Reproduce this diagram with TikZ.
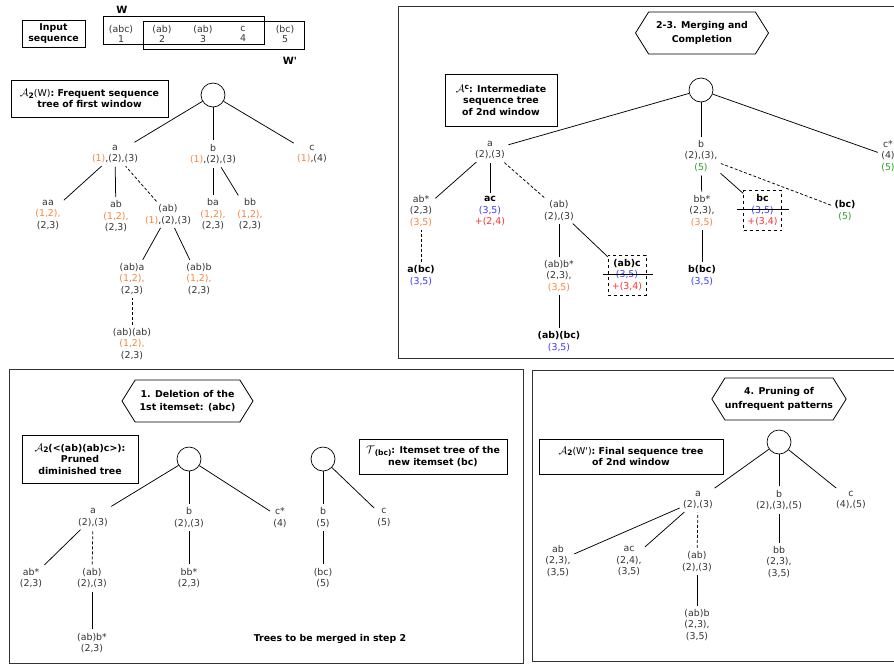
\documentclass[tikz,border=0pt]{standalone}
\usepackage{fontspec}
\setmainfont{DejaVu Sans}
\usetikzlibrary{shapes.symbols,positioning}
\definecolor{txtgrey}{HTML}{333333}
\definecolor{orng}{HTML}{F5873F}
\definecolor{blu}{HTML}{3A3AFF}
\definecolor{redd}{HTML}{FF3030}
\definecolor{gren}{HTML}{2E9E2E}
\newcommand{\ora}[1]{\textcolor{orng}{#1}}
\newcommand{\blu}[1]{\textcolor{blu}{#1}}
\newcommand{\redt}[1]{\textcolor{redd}{#1}}
\newcommand{\gre}[1]{\textcolor{gren}{#1}}
\newcommand{\calA}{{\fontsize{11}{11}\selectfont$\mathcal{A}$}}
\newcommand{\calT}{{\fontsize{11}{11}\selectfont$\mathcal{T}$}}
\newcommand{\low}[1]{\raisebox{-1.5pt}{\fontsize{7.5}{7.5}\selectfont #1}}
\newcommand{\high}[1]{\raisebox{3pt}{\fontsize{7.5}{7.5}\selectfont #1}}
\tikzset{
    tn/.style={align=center,text=txtgrey,font=\fontsize{9.4}{11.5}\selectfont,inner sep=1.5pt},
    bn/.style={tn,text=black},
    root/.style={circle,draw,line width=0.7pt,minimum size=24pt,inner sep=0pt},
    capbox/.style={draw,line width=0.8pt,align=center,inner sep=0pt,
        font=\fontsize{9.4}{11.5}\selectfont\bfseries},
    stepsign/.style={signal,signal to=east and west,signal pointer angle=116,draw,line width=0.8pt,
        align=center,inner sep=0pt,font=\fontsize{9.4}{13.5}\selectfont\bfseries},
    mergebox/.style={tn,draw,dashed,line width=0.7pt,minimum width=38pt,minimum height=40pt},
    tl/.style={-,line width=0.75pt,shorten <=2pt,shorten >=2pt},
    dl/.style={tl,dash pattern=on 3pt off 2pt},
    rl/.style={-,line width=0.75pt,shorten <=2pt},
    bl/.style={-,line width=0.75pt,shorten >=2pt},
    strike/.style={-,line width=1pt},
    panel/.style={draw=black!80,line width=1pt},
    win/.style={draw,line width=0.7pt}
}

\begin{document}
\begin{tikzpicture}[x=1pt,y=-1pt]
    \useasboundingbox (0,0) rectangle (894,665);

    \draw[panel] (398,6) rectangle (900,358);
    \draw[panel] (9,369) rectangle (523,663);
    \draw[panel] (532,370) rectangle (900,661);

    \node[capbox,minimum width=63pt,minimum height=27pt,font=\fontsize{9.4}{11}\selectfont\bfseries]
        (input) at (53.5,33.5) {Input\\sequence};
    \draw[win] (103,16) rectangle (264,44);
    \draw[win] (143,21) rectangle (304,49);
    \node[bn,font=\fontsize{10}{10}\selectfont\bfseries] (lab w)  at (122,10) {W};
    \node[bn,font=\fontsize{10}{10}\selectfont\bfseries] (lab w2) at (290,61) {W\textquotesingle};
    \node[tn,font=\fontsize{9.4}{10.5}\selectfont] (seq 1) at (121,34) {(abc)\\1};
    \node[tn,font=\fontsize{9.4}{10.5}\selectfont] (seq 2) at (162,34) {(ab)\\2};
    \node[tn,font=\fontsize{9.4}{10.5}\selectfont] (seq 3) at (203,34) {(ab)\\3};
    \node[tn,font=\fontsize{9.4}{10.5}\selectfont] (seq 4) at (243,34) {c\\4};
    \node[tn,font=\fontsize{9.4}{10.5}\selectfont] (seq 5) at (285,34) {(bc)\\5};

    \node[capbox,minimum width=157pt,minimum height=37pt,font=\fontsize{9.4}{10.8}\selectfont\bfseries]
        (cap w) at (89.5,98.5) {\calA\low{2}{\mdseries(W)}: Frequent sequence\\tree of first window};
    \node[root] (w root) at (213,95) {};
    \node[tn] (w a) at (115,154) {a\\\ora{(1)},(2),(3)} edge[rl] (w root);
    \node[tn] (w b) at (213,154) {b\\\ora{(1)},(2),(3)} edge[rl] (w root);
    \node[tn] (w c) at (312,154) {c\\\ora{(1)},(4)}     edge[rl] (w root);
    \node[tn] (w aa) at (48,214.5)  {aa\\\ora{(1,2),}\\(2,3)} edge[tl] (w a);
    \node[tn] (w ab) at (116,216.5) {ab\\\ora{(1,2),}\\(2,3)} edge[tl] (w a);
    \node[tn] (w abp) at (168,214.5) {(ab)\\\ora{(1)},(2),(3)} edge[dl] (w a);
    \node[tn] (w ba) at (213,214.5) {ba\\\ora{(1,2),}\\(2,3)} edge[tl] (w b);
    \node[tn] (w bb) at (250,214.5) {bb\\\ora{(1,2),}\\(2,3)} edge[tl] (w b);
    \node[tn] (w aba) at (132,279) {(ab)a\\\ora{(1,2),}\\(2,3)} edge[tl] (w abp);
    \node[tn] (w abb) at (199,279) {(ab)b\\\ora{(1,2),}\\(2,3)} edge[tl] (w abp);
    \node[tn] (w abab) at (132,344) {(ab)(ab)\\\ora{(1,2),}\\(2,3)} edge[dl] (w aba);

    \node[stepsign,minimum width=133pt,minimum height=42pt] (step mc) at (702,33) {2-3. Merging and\\Completion};
    \node[capbox,minimum width=112pt,minimum height=52pt] (cap c) at (501,100)
        {\calA\high{c}: Intermediate\\sequence tree\\of 2nd window};
    \node[root] (c root) at (701,90) {};
    \node[tn] (c a) at (490,150) {a\\(2),(3)} edge[rl] (c root);
    \node[tn] (c b) at (701,156) {b\\(2),(3),\\\gre{(5)}} edge[rl] (c root);
    \node[tn] (c c) at (888,156) {c*\\(4)\\\gre{(5)}} edge[rl] (c root);
    \node[tn] (c abs) at (421,211) {ab*\\(2,3)\\\ora{(3,5)}} edge[tl] (c a);
    \node[bn] (c ac) at (490,211) {\textbf{ac}\\\blu{(3,5)}\\\redt{+(2,4)}} edge[tl] (c a);
    \node[tn] (c ab) at (559,210.5) {(ab)\\(2),(3)} edge[dl] (c a);
    \node[bn] (c abc) at (421,275.5) {\textbf{a(bc)}\\\blu{(3,5)}} edge[dl] (c abs);
    \node[tn] (c abb) at (559,276) {(ab)b*\\(2,3),\\\ora{(3,5)}} edge[tl] (c ab);
    \node[mergebox] (c abpc) at (627,275) {\textcolor{black}{\textbf{(ab)c}}\\\blu{(3,5)}\\\redt{+(3,4)}} edge[bl] (c ab);
    \node[bn] (c abbc) at (559,341.5) {\textbf{(ab)(bc)}\\\blu{(3,5)}} edge[tl] (c abb);
    \node[tn] (c bb) at (702,211) {bb*\\(2,3),\\\ora{(3,5)}} edge[tl] (c b);
    \node[mergebox] (c bc) at (762.5,210.5) {\textcolor{black}{\textbf{bc}}\\\blu{(3,5)}\\\redt{+(3,4)}} edge[bl] (c b);
    \node[bn] (c bcp) at (845,210.5) {\textbf{(bc)}\\\gre{(5)}} edge[dl] (c b);
    \node[bn] (c bbc) at (702,275.5) {\textbf{b(bc)}\\\blu{(3,5)}} edge[tl] (c bb);
    \draw[strike] ([xshift=-5pt,yshift=1pt]c abpc.west) -- ([xshift=7pt,yshift=1pt]c abpc.east);
    \draw[strike] ([xshift=-6pt,yshift=1pt]c bc.west) -- ([xshift=7pt,yshift=1pt]c bc.east);

    \node[stepsign,minimum width=131pt,minimum height=42pt] (step del) at (187.5,401) {1. Deletion of the\\1st itemset: (abc)};
    \node[capbox,minimum width=116pt,minimum height=48pt] (cap p) at (80,459)
        {\calA\low{2}(<(ab)(ab)c>):\\Pruned\\diminished tree};
    \node[root] (p root) at (189,459) {};
    \node[tn] (p a) at (93,517.5)  {a\\(2),(3)} edge[rl] (p root);
    \node[tn] (p b) at (189,517.5) {b\\(2),(3)} edge[rl] (p root);
    \node[tn] (p c) at (280,517.5) {c*\\(4)}    edge[rl] (p root);
    \node[tn] (p abs) at (31,578) {ab*\\(2,3)} edge[tl] (p a);
    \node[tn] (p ab) at (92,578) {(ab)\\(2),(3)} edge[dl] (p a);
    \node[tn] (p abb) at (92,643) {(ab)b*\\(2,3)} edge[tl] (p ab);
    \node[tn] (p bb) at (189,578) {bb*\\(2,3)} edge[tl] (p b);
    \node[root] (t root) at (323,459) {};
    \node[capbox,minimum width=148pt,minimum height=35pt] (cap t) at (433,456.5)
        {\calT\low{(bc)}: Itemset tree of the\\new itemset (bc)};
    \node[tn] (t b) at (323,517.5) {b\\(5)} edge[rl] (t root);
    \node[tn] (t c) at (384,517.5) {c\\(5)} edge[rl] (t root);
    \node[tn] (t bc) at (323,578) {(bc)\\(5)} edge[tl] (t b);
    \node[bn,font=\fontsize{9.4}{11.5}\selectfont\bfseries] (merge note) at (330,639) {Trees to be merged in step 2};

    \node[stepsign,minimum width=128pt,minimum height=42pt] (step prune) at (779,399) {4. Pruning of\\unfrequent patterns};
    \node[capbox,minimum width=184pt,minimum height=35pt] (cap f) at (631,456.5)
        {\calA\low{2}{\mdseries(W\textquotesingle)}: Final sequence tree\\of 2nd window};
    \node[root] (f root) at (779,442) {};
    \node[tn] (f a) at (698,500) {a\\(2),(3)}         edge[rl] (f root);
    \node[tn] (f b) at (779,500) {b\\(2),(3),(5)}     edge[rl] (f root);
    \node[tn] (f c) at (851,500) {c\\(4),(5)}         edge[rl] (f root);
    \node[tn] (f ab) at (558,561) {ab\\(2,3),\\(3,5)} edge[tl] (f a);
    \node[tn] (f ac) at (629,561) {ac\\(2,4),\\(3,5)} edge[tl] (f a);
    \node[tn] (f abp) at (697,561.5) {(ab)\\(2),(3)}  edge[dl] (f a);
    \node[tn] (f abb) at (697,625) {(ab)b\\(2,3),\\(3,5)} edge[tl] (f abp);
    \node[tn] (f bb) at (779,562) {bb\\(2,3),\\(3,5)} edge[tl] (f b);
\end{tikzpicture}
\end{document}
